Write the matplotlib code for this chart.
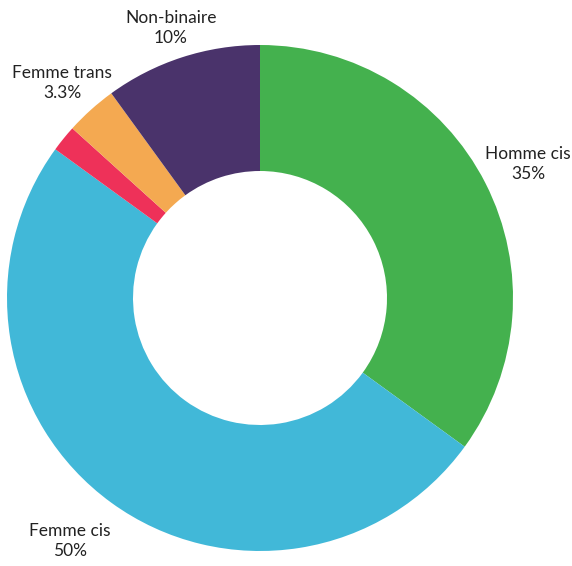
import matplotlib
matplotlib.use("Agg")
import matplotlib.pyplot as plt

labels = ["Homme cis", "Femme cis", "", "Femme trans", "Non-binaire"]
values = [35, 50, 1.7, 3.3, 10]
pct_text = ["35%", "50%", "", "3.3%", "10%"]
colors = ["#44B14E", "#41B8D8", "#EE3159", "#F4A951", "#4A336B"]

# label anchor points (pixels from top-left)
label_pos = [(528, 164), (70, 541), None, (62, 83), (171, 28)]

W, H = 572, 566
fig = plt.figure(figsize=(W / 100, H / 100), dpi=100)
ax = fig.add_axes([0, 0, 1, 1])

cx, cy, r = 260, H - 298, 253
ax.pie(values, colors=colors, startangle=90, counterclock=False,
       center=(cx, cy), radius=r, wedgeprops=dict(width=r - 127, linewidth=0),
       frame=True)
ax.set_xlim(0, W)
ax.set_ylim(0, H)
ax.set_aspect("equal")
ax.axis("off")

for lab, pct, pos in zip(labels, pct_text, label_pos):
    if pos is None:
        continue
    ax.text(pos[0], H - pos[1], lab + "\n" + pct, ha="center", va="center",
            fontsize=12.5, family="Lato", color="#222222", linespacing=1.3)

fig.savefig("out.png", dpi=100)
